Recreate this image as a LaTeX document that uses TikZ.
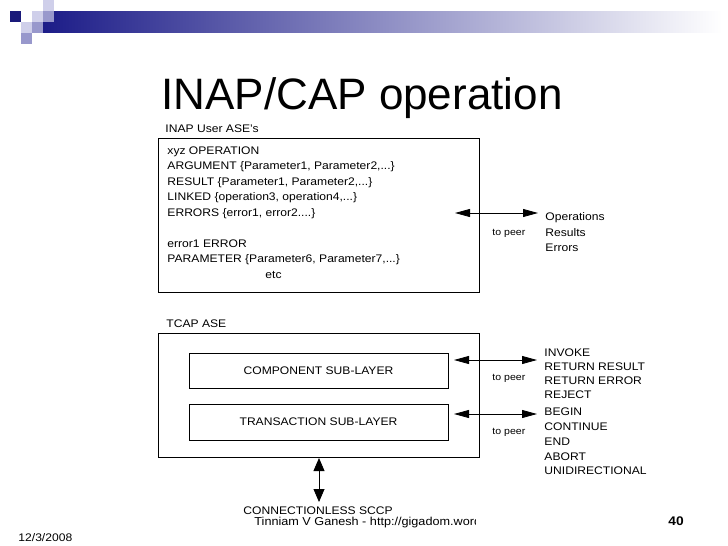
\documentclass[tikz,border=0pt]{standalone}
\usepackage{fontspec}
\setmainfont{Liberation Sans}[FakeStretch=1.1]
\newfontfamily\slidetitlefont{Liberation Sans}
\usetikzlibrary{arrows.meta}
\definecolor{bannerblue}{HTML}{1C1C88}
\definecolor{bannermid}{HTML}{6A6AB0}
\definecolor{squaredark}{HTML}{1A1A7A}
\definecolor{squaremid}{HTML}{9898CC}
\definecolor{squarelight}{HTML}{CFCFEA}
\begin{document}
\begin{tikzpicture}[x=1pt, y=-1pt, line width=0.9pt,
        lbl/.style={anchor=base west, inner sep=0pt, font=\fontsize{11}{13}\selectfont},
        peerlbl/.style={anchor=base west, inner sep=0pt, font=\fontsize{9.6}{11}\selectfont},
        ase/.style={draw, minimum width=321pt, inner sep=0pt},
        layer/.style={draw, minimum width=259pt, minimum height=35pt, inner sep=0pt, font=\fontsize{11}{13}\selectfont},
        peerarrow/.style={{Triangle[length=15pt,width=8pt]}-{Triangle[length=15pt,width=8pt]}, line width=0.8pt},
        sccparrow/.style={{Triangle[length=13pt,width=11pt]}-{Triangle[length=13pt,width=11pt]}, line width=0.8pt}]
        \useasboundingbox (0,0) rectangle (728,546);

        % banner
        \shade[left color=bannerblue, middle color=bannermid, right color=white] (43,11) rectangle (722,32);
        \fill[squarelight] (43,0) rectangle (54,11);
        \fill[squaredark] (10,11) rectangle (21,22);
        \fill[squarelight] (32,11) rectangle (43,22);
        \fill[squaremid] (43,11) rectangle (54,22);
        \fill[squarelight] (21,22) rectangle (32,33);
        \fill[squaremid] (32,22) rectangle (43,33);
        \fill[squaremid] (21,33) rectangle (32,44);

        \node[anchor=base west, inner sep=0pt, font=\slidetitlefont\fontsize{44}{50}\selectfont] (title) at (161,109) {INAP/CAP operation};

        % INAP user ASE
        \node[lbl] (inaplbl) at (165,132) {INAP User ASE's};
        \node[ase, minimum height=154pt] (inapbox) at (318.5,215) {};
        \node[lbl] (op1) at (167,154) {xyz OPERATION};
        \node[lbl] (op2) at (167,169.5) {ARGUMENT \{Parameter1, Parameter2,...\}};
        \node[lbl] (op3) at (167,185) {RESULT \{Parameter1, Parameter2,...\}};
        \node[lbl] (op4) at (167,200.5) {LINKED \{operation3, operation4,...\}};
        \node[lbl] (op5) at (167,216) {ERRORS \{error1, error2....\}};
        \node[lbl] (err1) at (167,247) {error1 ERROR};
        \node[lbl] (err2) at (167,262.5) {PARAMETER \{Parameter6, Parameter7,...\}};
        \node[lbl] (err3) at (265,278) {etc};

        \coordinate (inapin) at (455,213);
        \coordinate (inapout) at (538,213);
        \draw[peerarrow] (inapin) -- (inapout);
        \node[peerlbl] (inappeer) at (492,235) {to peer};
        \node[lbl] (ops) at (545,220.5) {Operations};
        \node[lbl] (res) at (545,236) {Results};
        \node[lbl] (errs) at (545,251.5) {Errors};

        % TCAP ASE
        \node[lbl] (tcaplbl) at (166,327) {TCAP ASE};
        \node[ase, minimum height=124pt] (tcapbox) at (318.5,395) {};
        \node[layer] (component) at (318.5,370.5) {COMPONENT SUB-LAYER};
        \node[layer, minimum height=36pt] (transaction) at (318.5,422) {TRANSACTION SUB-LAYER};

        \coordinate (compin) at (454,360);
        \coordinate (compout) at (537,360);
        \draw[peerarrow] (compin) -- (compout);
        \node[peerlbl] (comppeer) at (492,380) {to peer};
        \coordinate (transin) at (454,414);
        \coordinate (transout) at (537,414);
        \draw[peerarrow] (transin) -- (transout);
        \node[peerlbl] (transpeer) at (492,434) {to peer};

        \node[lbl] (invoke) at (544,356) {INVOKE};
        \node[lbl] (retres) at (544,370) {RETURN RESULT};
        \node[lbl] (reterr) at (544,384.5) {RETURN ERROR};
        \node[lbl] (reject) at (544,398.5) {REJECT};
        \node[lbl] (begin) at (544,415) {BEGIN};
        \node[lbl] (continue) at (544,430) {CONTINUE};
        \node[lbl] (end) at (544,445) {END};
        \node[lbl] (abort) at (544,460) {ABORT};
        \node[lbl] (unidir) at (544,474.5) {UNIDIRECTIONAL};

        % SCCP
        \coordinate (sccpin) at (319,458);
        \coordinate (sccpout) at (319,502);
        \draw[sccparrow] (sccpin) -- (sccpout);
        \node[lbl] (sccp) at (243,514) {CONNECTIONLESS SCCP};

        % footer
        \begin{scope}
            \clip (0,0) rectangle (475,546);
            \node[lbl, font=\fontsize{11.5}{13}\selectfont] (author) at (254,525.5) {Tinniam V Ganesh - http://gigadom.word};
        \end{scope}
        \node[anchor=base west, inner sep=0pt, font=\bfseries\fontsize{12.5}{14}\selectfont] (page) at (668,525) {40};
        \node[lbl] (date) at (18,541) {12/3/2008};
    \end{tikzpicture}
\end{document}
